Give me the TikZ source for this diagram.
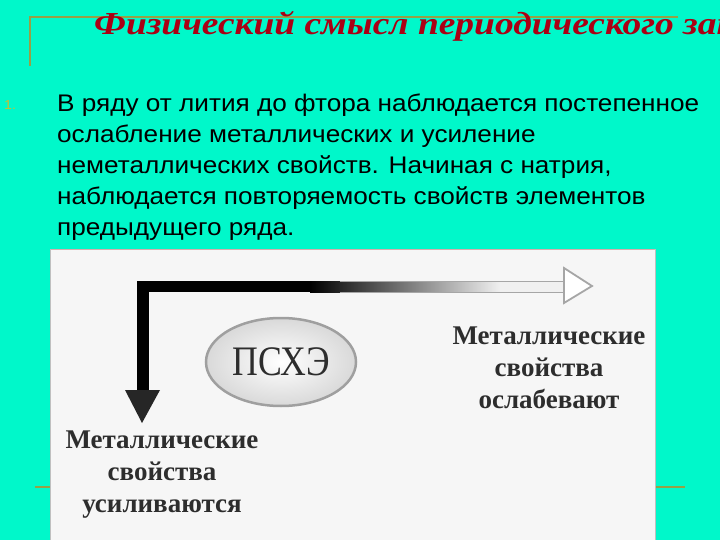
\documentclass[tikz,border=0pt]{standalone}
\usepackage{fontspec}
\setmainfont{Liberation Serif}
\newfontfamily\bodyfont[FakeStretch=1.09]{Liberation Sans}
\newfontfamily\ellfont[FakeStretch=0.85]{Liberation Serif}
\newfontfamily\titlefont[FakeStretch=1.17]{Liberation Serif}
\usetikzlibrary{shapes.geometric}
\definecolor{bg}{RGB}{0,248,202}
\definecolor{olive}{RGB}{150,160,70}
\definecolor{titlered}{RGB}{170,0,20}
\definecolor{txtgray}{RGB}{45,45,45}
\definecolor{panel}{RGB}{246,246,246}
\tikzset{
  frameline/.style={draw=olive,line width=1.5pt},
  bodytext/.style={anchor=base west,inner sep=0pt,font=\bodyfont\fontsize{24}{31}\selectfont,text=black},
  serifcap/.style={align=center,inner sep=0pt,text=txtgray,font=\fontsize{27}{32}\selectfont\bfseries}
}
\begin{document}
\begin{tikzpicture}[x=1pt,y=-1pt]
\useasboundingbox (0,0) rectangle (720,540);
\fill[bg] (0,0) rectangle (720,540);
\begin{scope}
\clip (0,0) rectangle (720,540);
% title frame
\draw[frameline] (30,66) -- (30,17) -- (678,17);
\node[anchor=base west,inner sep=0pt,text=titlered,font=\titlefont\fontsize{32}{34}\selectfont\bfseries\itshape] (title) at (94,35) {Физический смысл периодического закона};
% bullet and body
\node[anchor=base west,inner sep=0pt,text=yellow!75!black,font=\bodyfont\fontsize{13}{14}\selectfont] (num) at (4,110) {1.};
\node[bodytext] (l1) at (57,112) {В ряду от лития до фтора наблюдается постепенное};
\node[bodytext] (l2) at (57,143) {ослабление металлических и усиление};
\node[bodytext] (l3) at (57,174) {неметаллических свойств. Начиная с натрия,};
\node[bodytext] (l4) at (57,205) {наблюдается повторяемость свойств элементов};
\node[bodytext] (l5) at (57,236) {предыдущего ряда.};
% bottom line
\draw[frameline] (35,487) -- (685,487);
% panel
\fill[panel,draw=gray!50,line width=1pt] (50,249) rectangle (655,545);
\draw[pink!70!gray,line width=0.8pt] (51,249.5) -- (654,249.5);
% horizontal arrow
\fill[black] (137,281) rectangle (310,292);
\shade[left color=black,right color=gray!12] (310,281) rectangle (500,292);
\fill[gray!12] (500,281) rectangle (564,292);
\draw[gray!70,line width=1pt] (340,281) -- (564,281) (340,292) -- (564,292);
\draw[gray!70,line width=1.8pt,fill=white,line join=miter] (564,268) -- (592,286) -- (564,303) -- cycle;
% vertical arrow
\fill[black] (137,281) rectangle (149,391);
\fill[black!85] (125,390) -- (160,390) -- (142,423) -- cycle;
% ellipse
\node[ellipse,draw=gray!75,line width=2.5pt,minimum width=150pt,minimum height=88pt,inner color=white,outer color=gray!30,text=txtgray,font=\ellfont\fontsize{42}{44}\selectfont] (psxe) at (281,362) {ПСХЭ};
% captions
\node[serifcap] (right) at (549,368) {Металлические\\свойства\\ослабевают};
\node[serifcap] (left) at (162,475) {Металлические\\свойства\\усиливаются};
\end{scope}
\end{tikzpicture}
\end{document}
